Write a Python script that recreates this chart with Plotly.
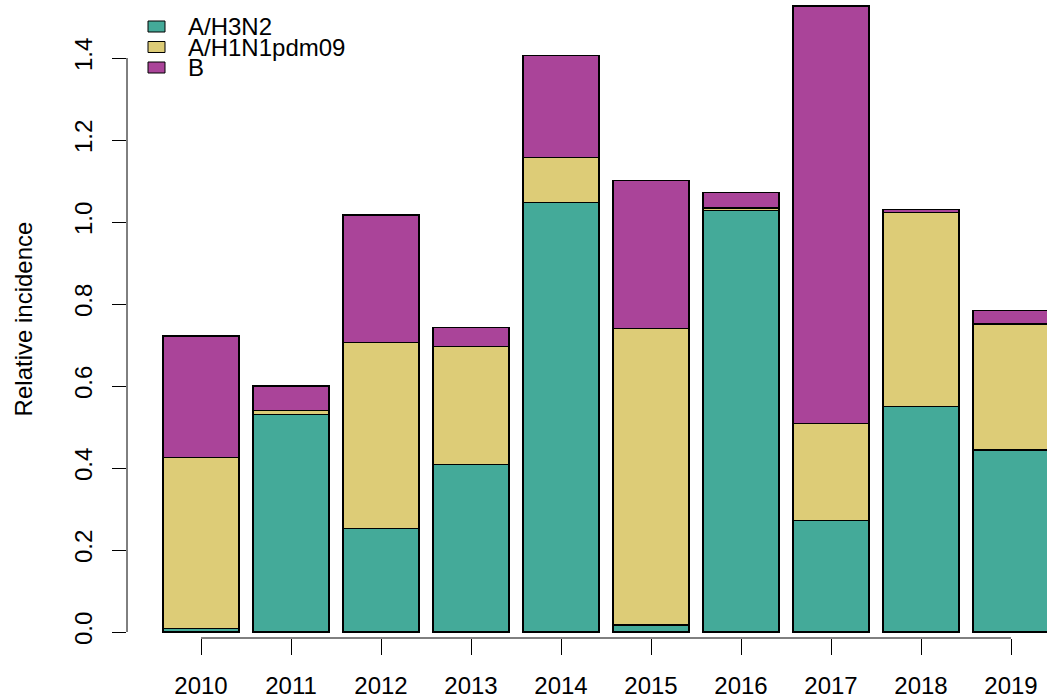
import plotly.graph_objects as go

years = ["2010", "2011", "2012", "2013", "2014", "2015", "2016", "2017", "2018", "2019"]
h3n2 = [0.009, 0.531, 0.253, 0.409, 1.048, 0.017, 1.029, 0.272, 0.550, 0.444]
h1n1 = [0.416, 0.009, 0.453, 0.287, 0.110, 0.724, 0.005, 0.237, 0.473, 0.307]
flub = [0.297, 0.060, 0.311, 0.046, 0.248, 0.361, 0.037, 1.018, 0.008, 0.033]

series_names = ["A/H3N2", "A/H1N1pdm09", "B"]
series_values = [h3n2, h1n1, flub]
series_colors = ["#44AA99", "#DDCC77", "#AA4499"]

ytick_vals = [0.0, 0.2, 0.4, 0.6, 0.8, 1.0, 1.2, 1.4]
ytick_text = ["0.0", "0.2", "0.4", "0.6", "0.8", "1.0", "1.2", "1.4"]

FONT = "Liberation Sans, Arial, Helvetica, sans-serif"
W, H = 1047, 698
ML, MB = 127, 60
PLOT_W = W - ML
PLOT_H = H - MB
PX_PER_UNIT = 410.0
Y0_OFFSET = 6.0  # px between zero and plot bottom

fig = go.Figure()
for name, vals, col in zip(series_names, series_values, series_colors):
    fig.add_trace(go.Bar(
        x=years, y=vals, name=name,
        marker=dict(color=col, line=dict(color="black", width=1.2)),
        showlegend=False,
    ))

ymin = -Y0_OFFSET / PX_PER_UNIT
ymax = ymin + PLOT_H / PX_PER_UNIT
bar_step_px = 90.0
first_center_px = 201.0
xmin = (ML - first_center_px) / bar_step_px
xmax = (W - first_center_px) / bar_step_px

shapes = [
    # y axis line from first to last tick
    dict(type="line", xref="paper", yref="y", x0=0, x1=0,
         y0=ytick_vals[0], y1=ytick_vals[-1], line=dict(color="black", width=1)),
    # x axis line from first to last tick
    dict(type="line", xref="x", yref="paper", x0=0, x1=len(years) - 1,
         y0=0, y1=0, line=dict(color="black", width=1)),
]
annotations = []

# legend drawn at top-left
box_x0, box_x1 = 148, 165
text_x = 186
row_centers = [26.5, 47, 67.5]
box_h = 11
for name, col, cy in zip(series_names, series_colors, row_centers):
    shapes.append(dict(
        type="rect", xref="paper", yref="paper",
        x0=(box_x0 - ML) / PLOT_W, x1=(box_x1 - ML) / PLOT_W,
        y0=1 - (cy + box_h / 2) / PLOT_H, y1=1 - (cy - box_h / 2) / PLOT_H,
        fillcolor=col, line=dict(color="black", width=1),
    ))
    annotations.append(dict(
        xref="paper", yref="paper", x=(text_x - ML) / PLOT_W, y=1 - cy / PLOT_H,
        xanchor="left", yanchor="middle", text=name, showarrow=False,
        font=dict(family=FONT, size=24, color="black"),
    ))

fig.update_layout(
    width=W, height=H,
    margin=dict(l=ML, r=0, t=0, b=MB, pad=0),
    paper_bgcolor="white", plot_bgcolor="white",
    barmode="stack", bargap=1 - 76 / 90,
    font=dict(family=FONT, size=24, color="black"),
    shapes=shapes, annotations=annotations,
    xaxis=dict(
        type="category", range=[xmin, xmax],
        showgrid=False, zeroline=False, showline=False,
        ticks="outside", ticklen=16, tickwidth=1, tickcolor="black",
        tickfont=dict(family=FONT, size=24, color="black"),
        ticklabelstandoff=10,
    ),
    yaxis=dict(
        range=[ymin, ymax],
        showgrid=False, zeroline=False, showline=False,
        tickmode="array", tickvals=ytick_vals, ticktext=ytick_text,
        ticks="outside", ticklen=14, tickwidth=1, tickcolor="black",
        tickangle=-90,
        tickfont=dict(family=FONT, size=24, color="black"),
        ticklabelstandoff=10,
        title=dict(text="Relative incidence", standoff=31,
                   font=dict(family=FONT, size=24, color="black")),
    ),
)

fig.write_html(
    "out.html",
    config={"displayModeBar": False},
    post_script="document.body.style.margin='0';document.body.style.overflow='hidden';",
)
